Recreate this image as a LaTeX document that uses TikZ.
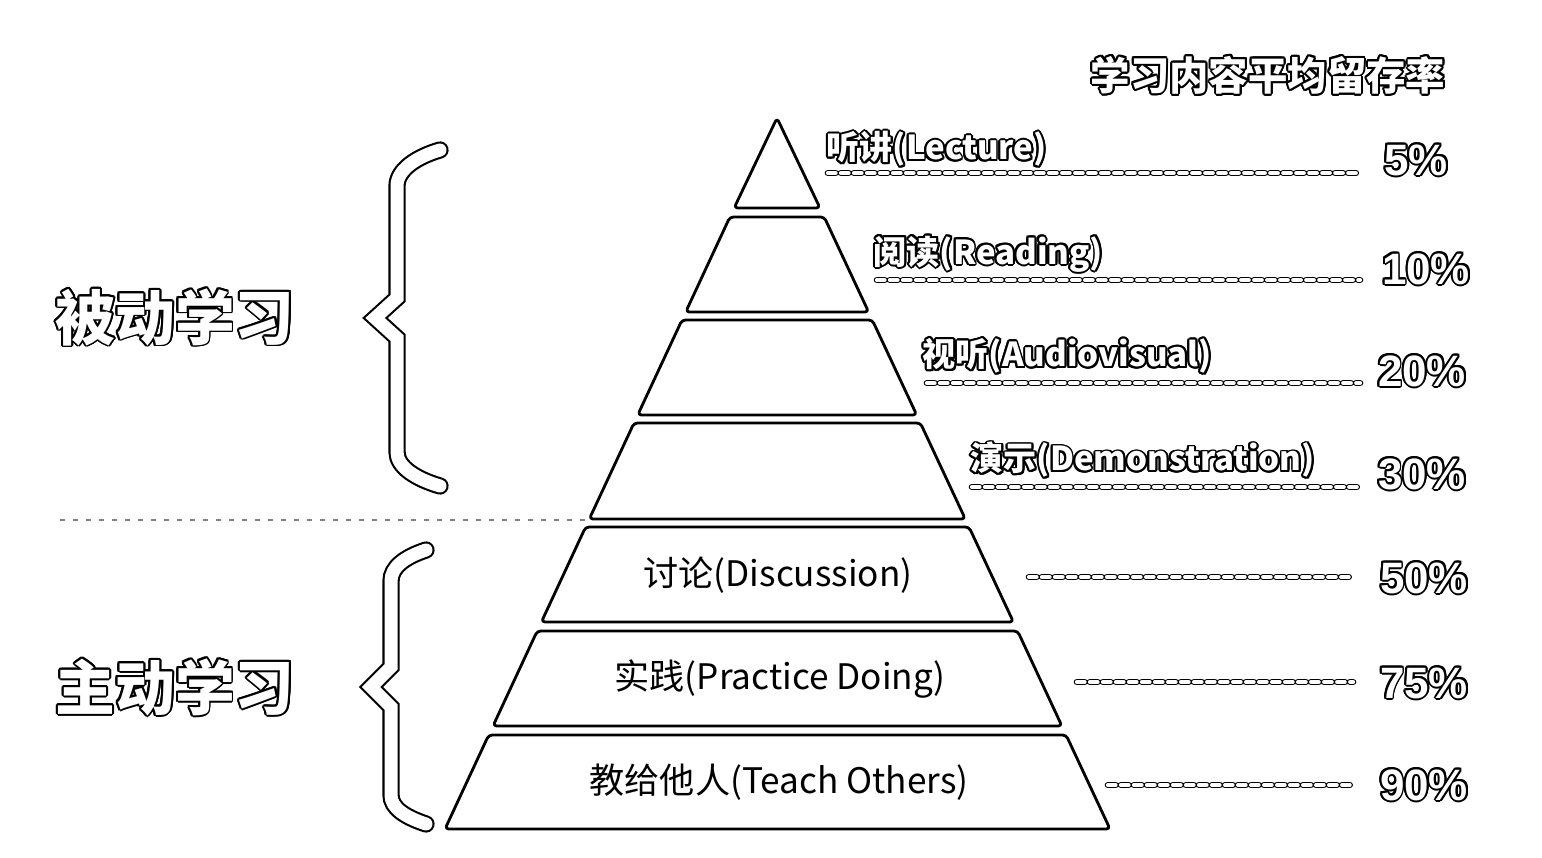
\documentclass[tikz,border=0pt]{standalone}
\usepackage{fontspec}
\setmainfont{Noto Sans CJK SC}
\newfontfamily\pctfont{Liberation Sans}
\usepackage{contour}
\contourlength{0.55pt}
\newcommand{\outl}[1]{{\color{white}\contour{black}{#1}}}
\tikzset{
  layer/.style={draw=black, line width=0.8pt, rounded corners=1pt, line join=round},
  inlab/.style={font=\fontsize{10}{11}\selectfont, inner sep=0pt},
  uplab/.style={font=\bfseries\fontsize{9.4}{11}\selectfont, anchor=west, inner sep=0pt},
  pctlab/.style={font=\pctfont\bfseries\fontsize{12.5}{14}\selectfont, inner sep=0pt},
  biglab/.style={font=\bfseries\fontsize{17}{19}\selectfont, inner sep=0pt},
  leader/.style={line width=0.35pt, double distance=1.2pt, line cap=round, dash pattern=on 0.75mm off 0.55mm},
  bracepath/.style={line width=0.6pt, double distance=1.3mm, line cap=round, line join=miter},
  divider/.style={gray, line width=0.5pt, dash pattern=on 0.5mm off 0.8mm}
}
\begin{document}
\begin{tikzpicture}[x=0.01cm,y=-0.01cm]
\useasboundingbox (0,0) rectangle (1542,858);

% pyramid layers
\draw[layer] (777,118) -- (820.0,208) -- (734.1,208) -- cycle;
\draw[layer] (729.9,217) -- (824.2,217) -- (868.6,312) -- (685.7,312) -- cycle;
\draw[layer] (682.0,320) -- (872.3,320) -- (916.7,415) -- (637.7,415) -- cycle;
\draw[layer] (634.0,423) -- (920.4,423) -- (965.3,519) -- (589.3,519) -- cycle;
\draw[layer] (585.6,527) -- (969.0,527) -- (1013.4,622) -- (541.4,622) -- cycle;
\draw[layer] (537.2,631) -- (1017.6,631) -- (1061.9,726) -- (493.0,726) -- cycle;
\draw[layer] (488.7,735) -- (1066.1,735) -- (1110.0,829) -- (445.0,829) -- cycle;

% title
\node[font=\bfseries\fontsize{11.2}{13}\selectfont, inner sep=0pt] (title) at (1268,76) {\outl{学习内容平均留存率}};

% upper labels
\node[uplab] (lab1) at (826,150) {\outl{听讲(Lecture)}};
\node[uplab] (lab2) at (873,255) {\outl{阅读(Reading)}};
\node[uplab] (lab3) at (922,357) {\outl{视听(Audiovisual)}};
\node[uplab] (lab4) at (970,461) {\outl{演示(Demonstration)}};

% inner labels
\node[inlab] (lab5) at (778,575) {讨论(Discussion)};
\node[inlab] (lab6) at (780,679) {实践(Practice Doing)};
\node[inlab] (lab7) at (779,782) {教给他人(Teach Others)};

% percentages
\node[pctlab] (pct1) at (1416,161) {\outl{5\%}};
\node[pctlab] (pct2) at (1426,270) {\outl{10\%}};
\node[pctlab] (pct3) at (1422,372) {\outl{20\%}};
\node[pctlab] (pct4) at (1422,475) {\outl{30\%}};
\node[pctlab] (pct5) at (1424,579) {\outl{50\%}};
\node[pctlab] (pct6) at (1424,684) {\outl{75\%}};
\node[pctlab] (pct7) at (1424,786) {\outl{90\%}};

% leader lines
\coordinate (s1) at (828,173); \coordinate (e1) at (1360,173);
\coordinate (s2) at (877,280); \coordinate (e2) at (1360,280);
\coordinate (s3) at (927,383); \coordinate (e3) at (1360,383);
\coordinate (s4) at (972,487); \coordinate (e4) at (1360,487);
\coordinate (s5) at (1029,577); \coordinate (e5) at (1353,577);
\coordinate (s6) at (1077,682); \coordinate (e6) at (1353,682);
\coordinate (s7) at (1108,785); \coordinate (e7) at (1353,785);
\foreach \i in {1,...,7} {\draw[leader] (s\i) -- (e\i);}

% divider
\coordinate (d1) at (60,520); \coordinate (d2) at (585,520);
\draw[divider] (d1) -- (d2);

% side labels
\node[biglab] (passive) at (175,318) {\outl{被动学习}};
\node[biglab] (active) at (175,688) {\outl{主动学习}};

% braces
\draw[bracepath] (440,150) .. controls (416,157) and (397,170) .. (397,186) -- (397,298) -- (375,318) -- (397,338) -- (397,452) .. controls (397,467) and (416,479) .. (440,486);
\draw[bracepath] (426,550) .. controls (405,557) and (391,567) .. (391,581) -- (391,667) -- (371,687) -- (391,707) -- (391,795) .. controls (391,808) and (405,817) .. (426,824);
\end{tikzpicture}
\end{document}
